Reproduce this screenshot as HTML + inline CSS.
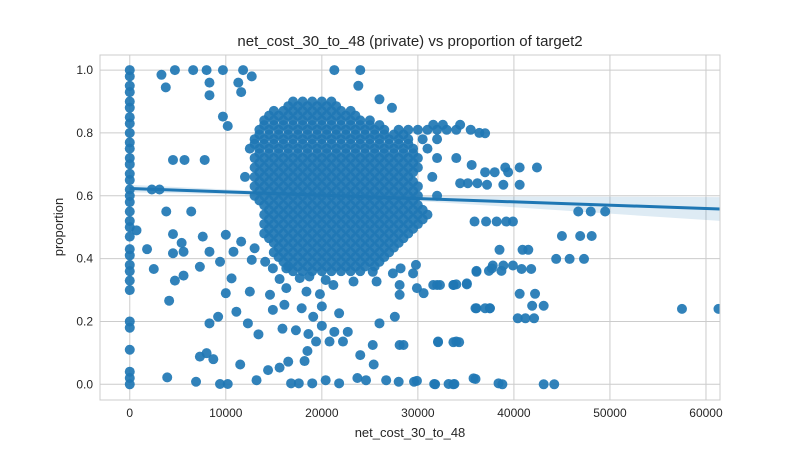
<!DOCTYPE html>
<html><head><meta charset="utf-8"><style>
body{margin:0;background:#fff;font-family:"Liberation Sans",sans-serif;}
svg text{font-family:"Liberation Sans",sans-serif;fill:#262626;}
</style></head><body>
<svg id="chart" width="800" height="450" xmlns="http://www.w3.org/2000/svg">
<rect x="0" y="0" width="800" height="450" fill="#fff"/>
<text x="410" y="46" font-size="15" text-anchor="middle">net_cost_30_to_48 (private) vs proportion of target2</text>
<g id="grid"></g><g id="band"></g><g id="pts"></g><g id="fit"></g><g id="ticks"></g>
<rect x="100" y="55" width="620" height="345" fill="none" stroke="#cccccc" stroke-width="1"/>
<text x="410" y="437" font-size="13" text-anchor="middle">net_cost_30_to_48</text>
<text x="63" y="227" font-size="13" text-anchor="middle" transform="rotate(-90 63 227)">proportion</text>
</svg>
<script>
// x values in thousands
const xTicks=[0,10000,20000,30000,40000,50000,60000];
const xTickLabels=["0","10000","20000","30000","40000","50000","60000"];
const yTicks=[0,0.2,0.4,0.6,0.8,1.0];
const yTickLabels=["0.0","0.2","0.4","0.6","0.8","1.0"];
const blobY=[0.90,0.87,0.84,0.81,0.78,0.75,0.72,0.69,0.66,0.63,0.60,0.57,0.54,0.51,0.48,0.45,0.42,0.39,0.36];
const blobX=[
[17,18,19,20,21],
[15,16,17,18,19,20,21,22,23],
[14,15,16,17,18,19,20,21,22,23,24,25],
[13.5,14.5,15.5,16.5,17.5,18.5,19.5,20.5,21.5,22.5,23.5,24.5,25.5,26.5,28,29,30,31,32,33,34,35.5],
[13,14,15,16,17,18,19,20,21,22,23,24,25,26,27,28,29,30.5,32],
[12.5,13.5,14.5,15.5,16.5,17.5,18.5,19.5,20.5,21.5,22.5,23.5,24.5,25.5,26.5,27.5,28.5,29.5,31],
[13,14,15,16,17,18,19,20,21,22,23,24,25,26,27,28,29,30,32,34],
[13,14,15,16,17,18,19,20,21,22,23,24,25,26,27,28,29,30],
[12,13,14,15,16,17,18,19,20,21,22,23,24,25,26,27,28,29,31.5],
[13,14,15,16,17,18,19,20,21,22,23,24,25,26,27,28,29,30],
[13,14,15,16,17,18,19,20,21,22,23,24,25,26,27,28,29,30,32],
[14,15,16,17,18,19,20,21,22,23,24,25,26,27,28,29,30],
[14,15,16,17,18,19,20,21,22,23,24,25,26,27,28,29,30,31],
[14,15,16,17,18,19,20,21,22,23,24,25,26,27,28,29,30],
[14,15,16,17,18,19,20,21,22,23,24,25,26,27,28,29],
[15,16,17,18,19,20,21,22,23,24,25,26,27,28],
[15,16,17,18,19,20,21,22,23,24,25,26,27],
[16,17,18,19,20,21,22,23,24,25,26],
[17,18,19,20,21,22,23,24]];
const blobY2=[0.885,0.855,0.825,0.795,0.765,0.735,0.705,0.675,0.645,0.615,0.585,0.555,0.525,0.495,0.465,0.435,0.405,0.375];
const blobX2=[
[16.5,17.5,18.5,19.5,20.5,21.5],
[14.5,15.5,16.5,17.5,18.5,19.5,20.5,21.5,22.5,23.5],
[14,15,16,17,18,19,20,21,22,23,24,25,26],
[13.5,14.5,15.5,16.5,17.5,18.5,19.5,20.5,21.5,22.5,23.5,24.5,25.5,26.5,27.5,28.5],
[13,14,15,16,17,18,19,20,21,22,23,24,25,26,27,28,29],
[13.5,14.5,15.5,16.5,17.5,18.5,19.5,20.5,21.5,22.5,23.5,24.5,25.5,26.5,27.5,28.5,29.5],
[13.5,14.5,15.5,16.5,17.5,18.5,19.5,20.5,21.5,22.5,23.5,24.5,25.5,26.5,27.5,28.5,29.5],
[13.5,14.5,15.5,16.5,17.5,18.5,19.5,20.5,21.5,22.5,23.5,24.5,25.5,26.5,27.5,28.5,29.5],
[13.5,14.5,15.5,16.5,17.5,18.5,19.5,20.5,21.5,22.5,23.5,24.5,25.5,26.5,27.5,28.5,29.5],
[13.5,14.5,15.5,16.5,17.5,18.5,19.5,20.5,21.5,22.5,23.5,24.5,25.5,26.5,27.5,28.5,29.5],
[13.5,14.5,15.5,16.5,17.5,18.5,19.5,20.5,21.5,22.5,23.5,24.5,25.5,26.5,27.5,28.5,29.5],
[14.5,15.5,16.5,17.5,18.5,19.5,20.5,21.5,22.5,23.5,24.5,25.5,26.5,27.5,28.5,29.5,30.5],
[14.5,15.5,16.5,17.5,18.5,19.5,20.5,21.5,22.5,23.5,24.5,25.5,26.5,27.5,28.5,29.5,30.5],
[14.5,15.5,16.5,17.5,18.5,19.5,20.5,21.5,22.5,23.5,24.5,25.5,26.5,27.5,28.5,29.5],
[14.5,15.5,16.5,17.5,18.5,19.5,20.5,21.5,22.5,23.5,24.5,25.5,26.5,27.5,28.5],
[15.5,16.5,17.5,18.5,19.5,20.5,21.5,22.5,23.5,24.5,25.5,26.5,27.5],
[15.5,16.5,17.5,18.5,19.5,20.5,21.5,22.5,23.5,24.5,25.5,26.5],
[16.5,17.5,18.5,19.5,20.5,21.5,22.5,23.5,24.5,25.5]];
const zeroColY=[1.0,0.98,0.95,0.93,0.9,0.88,0.85,0.83,0.8,0.77,0.75,0.72,0.7,0.67,0.65,0.62,0.6,0.58,0.55,0.52,0.5,0.47,0.43,0.41,0.38,0.36,0.33,0.3,0.2,0.18,0.11,0.04,0.02,0.0];
const scatterX=[3.3,4.7,6.6,8,9.7,11.8,12.7,3.75,8.3,11.3,8.3,11.6,21.3,24,23.8,26,27.3,9.7,10.2,4.5,5.7,7.8,2.3,3.1,3.8,6.4,0.7,4.5,5.4,1.8,4.5,5.6,2.5,4.7,5.6,4.1,7.3,7.6,10,8.3,9.4,10.6,10,12.5,8.3,9.2,11.1,12.3,13.4,7.3,8,8.7,11.5,3.9,6.9,9.4,10.2,13.2,14.4,15.6,16.5,18.2,18.5,16.8,17.6,19,20.4,21.8,23.7,24.6,26.7,28,29.6,31.7,33.2,33.8,35.8,38.4,15.9,17.3,18.6,20,21.3,22.7,19.4,20.8,22.2,25.3,28.1,26,27.6,16.1,17.9,20,21.8,19.1,14.9,14.6,16.3,18.4,19.8,21.2,23.3,25.7,28.1,29.9,28.1,30.6,32,33.7,35.1,36.1,37.5,36.1,37.7,32.1,34,24,25.4,15.6,17.7,18.7,20.4,25.3,27.4,29.5,28.2,29.8,14.9,16.3,12.7,14.1,11.6,13,10.8,37,36.4,34.4,32.6,31.6,42.4,40.6,39.1,38,37,39.4,35.6,40.6,38.9,37.2,36.2,35.2,34.4,46.7,48,49.5,35.9,37.1,38.2,39.2,39.9,45,46.9,48.1,38.5,40.9,41.5,44.4,45.8,47.3,36.1,37.4,37.8,38.9,39.9,40.8,41.8,38.7,31.6,32.3,33.7,34,35.1,40.6,42.2,36,37,37.5,41.9,43.1,40.4,41.2,42.1,32.1,33.7,34.3,28.5,36,38.8,43.1,44.2,29.9,31.8,33.7,57.5,61.3];
const scatterY=[0.985,1.0,1.0,1.0,1.0,1.0,0.98,0.945,0.96,0.96,0.92,0.93,1.0,1.0,0.95,0.907,0.88,0.852,0.822,0.714,0.714,0.714,0.62,0.62,0.55,0.55,0.49,0.478,0.45,0.43,0.417,0.422,0.367,0.33,0.346,0.266,0.374,0.47,0.476,0.422,0.39,0.337,0.29,0.295,0.194,0.215,0.231,0.194,0.159,0.088,0.099,0.08,0.063,0.022,0.008,0.001,0.001,0.013,0.045,0.053,0.072,0.074,0.106,0.003,0.003,0.003,0.013,0.003,0.02,0.013,0.013,0.008,0.008,0.001,0.001,0.001,0.019,0.003,0.177,0.172,0.16,0.186,0.167,0.167,0.136,0.136,0.136,0.125,0.125,0.194,0.215,0.253,0.242,0.248,0.226,0.215,0.237,0.285,0.306,0.295,0.287,0.316,0.327,0.327,0.316,0.306,0.285,0.29,0.316,0.316,0.321,0.242,0.242,0.358,0.369,0.136,0.136,0.093,0.063,0.335,0.338,0.343,0.332,0.358,0.353,0.353,0.369,0.38,0.369,0.369,0.396,0.39,0.454,0.433,0.422,0.799,0.8,0.826,0.826,0.826,0.69,0.69,0.69,0.675,0.675,0.675,0.698,0.635,0.635,0.635,0.64,0.64,0.64,0.55,0.55,0.55,0.518,0.518,0.518,0.518,0.518,0.472,0.472,0.472,0.428,0.428,0.428,0.399,0.399,0.399,0.361,0.361,0.378,0.378,0.378,0.367,0.367,0.361,0.316,0.316,0.316,0.318,0.318,0.288,0.288,0.242,0.242,0.242,0.25,0.25,0.21,0.21,0.21,0.134,0.134,0.134,0.125,0.017,0.0,0.0,0.0,0.011,0.0,0.0,0.24,0.24];
const fitIntercept=[0.623];
const fitSlopePerK=[-0.00106];
const ciX=[0,10,20,30,40,50,61.5];
const ciHalf=[0.012,0.008,0.005,0.008,0.017,0.027,0.038];

const NS="http://www.w3.org/2000/svg";
const X0=100,X1=720,Y0=55,Y1=400,xmin=-3.1,xmax=61.46,ymin=-0.05,ymax=1.048;
function sx(k){return X0+(k-xmin)/(xmax-xmin)*(X1-X0);}
function sy(v){return Y1-(v-ymin)/(ymax-ymin)*(Y1-Y0);}
function mk(tag,attrs,parent){const e=document.createElementNS(NS,tag);for(const k in attrs)e.setAttribute(k,attrs[k]);document.getElementById(parent).appendChild(e);return e;}
xTicks.forEach((t,i)=>{
  const l=mk('line',{x1:sx(t/1000),x2:sx(t/1000),y1:Y0,y2:Y1,stroke:'#cccccc','stroke-width':1},'grid');
  
  
  const tx=mk('text',{x:sx(t/1000),y:417,'font-size':12,'text-anchor':'middle'},'ticks');
  tx.textContent=xTickLabels[i];
  
  
});
yTicks.forEach((t,i)=>{
  const l=mk('line',{x1:X0,x2:X1,y1:sy(t),y2:sy(t),stroke:'#cccccc','stroke-width':1},'grid');
  
  
  const tx=mk('text',{x:93,y:sy(t)+4,'font-size':12,'text-anchor':'end'},'ticks');
  tx.textContent=yTickLabels[i];
  
  
});
function dot(k,v){
  const c=mk('circle',{cx:sx(k),cy:sy(v),r:5,fill:'#1f77b4','fill-opacity':0.92},'pts');
  
  
}
zeroColY.forEach(v=>dot(0,v));
blobY.forEach((v,i)=>blobX[i].forEach(k=>dot(k,v)));
blobY2.forEach((v,i)=>blobX2[i].forEach(k=>dot(k,v)));
scatterX.forEach((k,i)=>dot(k,scatterY[i]));
const fy=k=>fitIntercept[0]+fitSlopePerK[0]*k;
let up=ciX.map((k,i)=>sx(k)+','+sy(fy(k)+ciHalf[i]));
let dn=ciX.map((k,i)=>sx(k)+','+sy(fy(k)-ciHalf[i])).reverse();
const band=mk('polygon',{points:up.concat(dn).join(' '),fill:'#1f77b4','fill-opacity':0.15},'band');


const fl=mk('line',{x1:sx(0),y1:sy(fy(0)),x2:sx(ciX[ciX.length-1]),y2:sy(fy(ciX[ciX.length-1])),stroke:'#1f77b4','stroke-width':3},'fit');


document.getElementById('chart').insertAdjacentHTML('afterbegin','<defs><clipPath id="cp"><rect x="100" y="55" width="620" height="345"/></clipPath></defs>');
['band','pts','fit'].forEach(id=>document.getElementById(id).setAttribute('clip-path','url(#cp)'));
</script>
</body></html>
